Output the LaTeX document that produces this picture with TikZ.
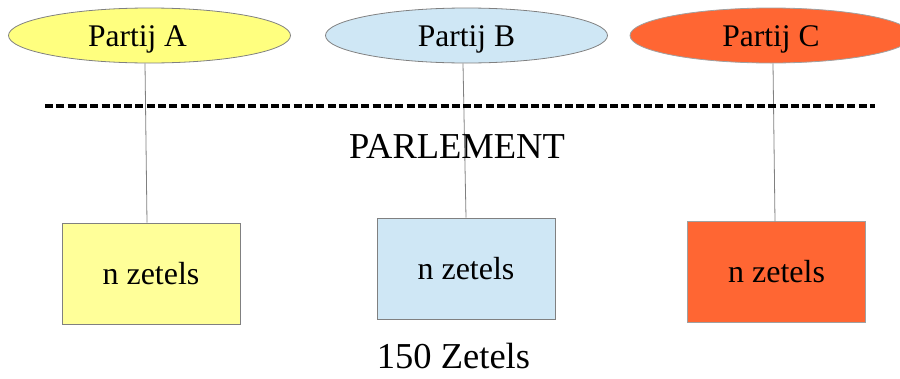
\documentclass[tikz,border=0pt]{standalone}
\usepackage{fontspec}
\setmainfont{Liberation Serif}
\usetikzlibrary{shapes.geometric}
\definecolor{ylA}{HTML}{FFFF7F}
\definecolor{ylB}{HTML}{FFFF99}
\definecolor{blu}{HTML}{CFE7F5}
\definecolor{org}{HTML}{FF6633}
\definecolor{brd}{HTML}{808080}
\definecolor{brdC}{HTML}{A0A0A0}
\tikzset{
  party/.style={ellipse, draw=brd, line width=0.8pt, minimum width=282pt, minimum height=55pt, inner sep=0pt,
    font=\fontsize{31.5}{36}\selectfont, text height=21pt, text depth=0pt},
  seats/.style={rectangle, draw=brd, line width=0.8pt, minimum width=178pt, minimum height=101pt, inner sep=0pt,
    font=\fontsize{32}{38}\selectfont, text height=21pt, text depth=0pt},
  link/.style={draw=brd, line width=0.8pt},
  bigtext/.style={inner sep=0pt, font=\fontsize{36.5}{42}\selectfont, text height=24pt, text depth=0pt}
}
\begin{document}
\begin{tikzpicture}[x=1pt,y=-1pt]
\useasboundingbox (0,0) rectangle (900,378);
\clip (0,0) rectangle (900,378);
% boxes
\node[seats, fill=ylB] (ba) at (151,273.5) {n zetels};
\node[seats, fill=blu] (bb) at (466,268.5) {n zetels};
\node[seats, fill=org, draw=brdC] (bc) at (776.5,272.2) {n zetels};
% parties
\node[party, fill=ylA] (ea) at (149.5,35.5) {Partij A\hspace*{24pt}};
\node[party, fill=blu] (eb) at (466.5,35.5) {Partij B};
\node[party, fill=org, draw=brdC] (ec) at (771,35.5) {Partij C};
% connectors
\draw[link] ([xshift=-4.5pt]ea.south) -- ([xshift=-4pt]ba.north);
\draw[link] ([xshift=-3.5pt]eb.south) -- ([xshift=0pt]bb.north);
\draw[link] ([xshift=2pt]ec.south) -- ([xshift=-1.5pt]bc.north);
% dashed separator
\coordinate (dl) at (45,106);
\coordinate (dr) at (875,106);
\draw[line width=3.4pt, dash pattern=on 8pt off 3.3pt] (dl) -- (dr);
% labels
\node[bigtext] (parl) at (457,146) {PARLEMENT};
\node[bigtext] (tot) at (453.5,356) {150 Zetels};
\end{tikzpicture}
\end{document}
